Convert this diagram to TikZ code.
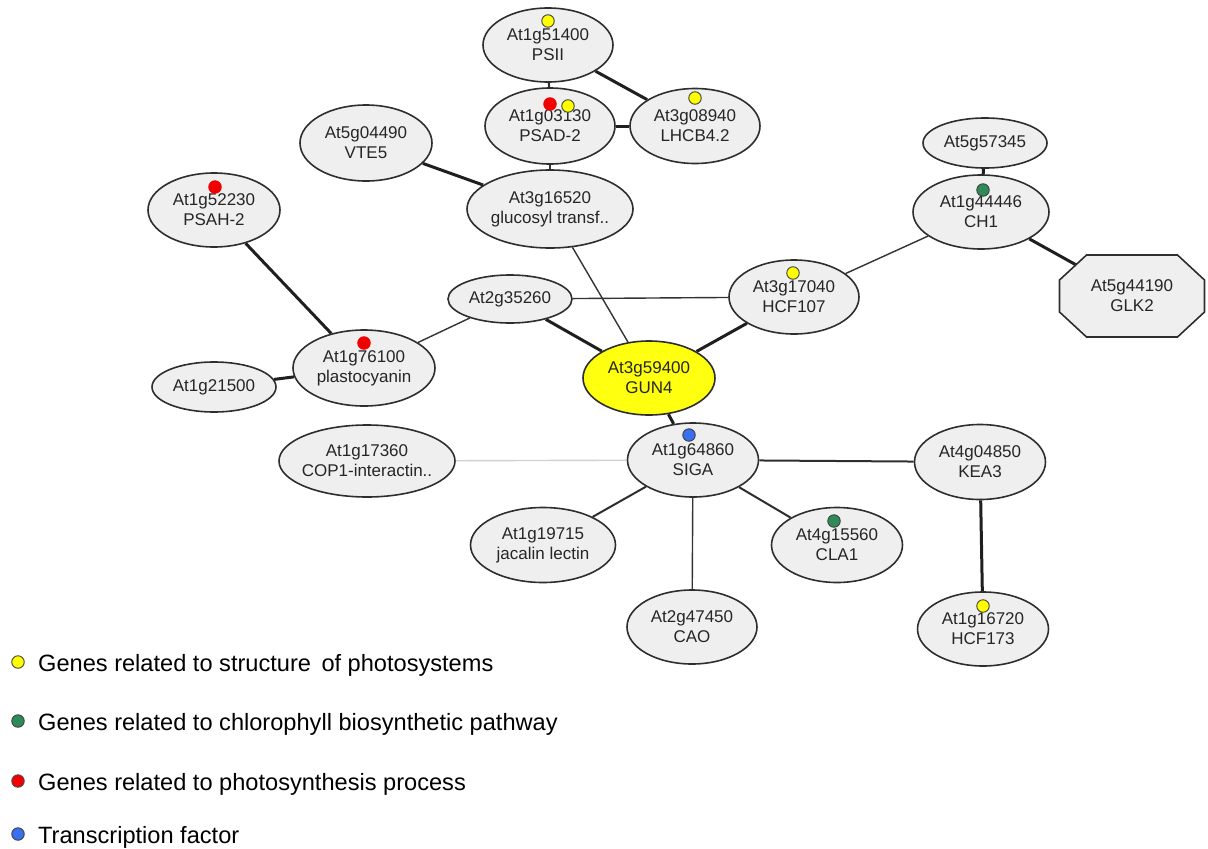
\documentclass[tikz,border=0pt]{standalone}
\usepackage{fontspec}
\setmainfont{Liberation Sans}
\usetikzlibrary{shapes.geometric,backgrounds,calc}
\definecolor{nfill}{HTML}{EFEFEF}
\definecolor{nline}{HTML}{2E2E2E}
\definecolor{gunyellow}{HTML}{FFFF10}
\definecolor{dyellow}{HTML}{FFFF00}
\definecolor{dred}{HTML}{F00000}
\definecolor{dgreen}{HTML}{2E8B57}
\definecolor{dblue}{HTML}{3A6FF0}
\definecolor{txt}{HTML}{262626}
\tikzset{
  gene/.style={ellipse, draw=nline, line width=1.6pt, fill=nfill, inner xsep=-15pt, inner ysep=0pt,
    align=center, font=\fontsize{17}{20}\selectfont, text=txt},
  octotext/.style={inner sep=0pt, align=center, font=\fontsize{17}{20}\selectfont, text=txt,
    minimum width=145, minimum height=82},
  octo/.style={draw=nline, line width=1.6pt, fill=nfill, line join=miter},
  thickedge/.style={line width=3pt, draw=black!88},
  midedge/.style={line width=2pt, draw=black!82},
  thinedge/.style={line width=1.4pt, draw=black!80},
  faintedge/.style={line width=1.4pt, draw=black!18},
  gdot/.style={circle, draw=black!75, line width=0.9pt, minimum size=12.5pt, inner sep=0pt},
  legtext/.style={anchor=base west, inner sep=0pt, font=\fontsize{23.6}{28}\selectfont, text=black},
}
\begin{document}
\begin{tikzpicture}[x=1pt,y=-1pt]
\useasboundingbox (0,0) rectangle (1208,849);

% gene nodes
\node[gene, minimum width=130, minimum height=74] (psii) at (548,45) {At1g51400\\PSII};
\node[gene, minimum width=130, minimum height=76] (psad) at (550,126) {At1g03130\\PSAD-2};
\node[gene, minimum width=130, minimum height=75] (lhcb) at (695,126) {At3g08940\\LHCB4.2};
\node[gene, minimum width=166, minimum height=78] (gluc) at (550,209) {At3g16520\\glucosyl transf..};
\node[gene, minimum width=132, minimum height=76] (vte5) at (366,143) {At5g04490\\VTE5};
\node[gene, minimum width=124, minimum height=48] (a35260) at (510,299) {At2g35260};
\node[gene, minimum width=132, minimum height=74] (psah) at (214,210) {At1g52230\\PSAH-2};
\node[gene, minimum width=142, minimum height=76] (plasto) at (364,368) {At1g76100\\plastocyanin};
\node[gene, minimum width=124, minimum height=50] (a21500) at (214,387) {At1g21500};
\node[gene, fill=gunyellow, minimum width=132, minimum height=74] (gun4) at (649,378) {At3g59400\\GUN4};
\node[gene, minimum width=130, minimum height=74] (hcf107) at (794,297) {At3g17040\\HCF107};
\node[gene, minimum width=136, minimum height=74] (ch1) at (981,212) {At1g44446\\CH1};
\node[gene, minimum width=124, minimum height=50] (a57345) at (985,143) {At5g57345};
\node[octotext] (glk2) at (1132,296) {At5g44190\\GLK2};
\node[gene, minimum width=131, minimum height=74] (siga) at (693,460) {At1g64860\\SIGA};
\node[gene, minimum width=131, minimum height=75] (kea3) at (980,462) {At4g04850\\KEA3};
\node[gene, minimum width=176, minimum height=72] (cop1) at (367,461) {At1g17360\\COP1-interactin..};
\node[gene, minimum width=145, minimum height=75] (jacalin) at (543,545) {At1g19715\\jacalin lectin};
\node[gene, minimum width=130, minimum height=74] (cao) at (692,627) {At2g47450\\CAO};
\node[gene, minimum width=131, minimum height=75] (cla1) at (837,545) {At4g15560\\CLA1};
\node[gene, minimum width=131, minimum height=74] (hcf173) at (983,629) {At1g16720\\HCF173};

% category dots
\node[gdot, fill=dyellow] (dpsii) at (548,21) {};
\node[gdot, fill=dred, draw=dred] (dpsad1) at (550,104) {};
\node[gdot, fill=dyellow] (dpsad2) at (568,106) {};
\node[gdot, fill=dyellow] (dlhcb) at (695,98) {};
\node[gdot, fill=dred, draw=dred] (dpsah) at (215,187) {};
\node[gdot, fill=dred, draw=dred] (dplasto) at (364,343) {};
\node[gdot, fill=dyellow] (dhcf107) at (793,273) {};
\node[gdot, fill=dgreen] (dch1) at (983,190) {};
\node[gdot, fill=dblue] (dsiga) at (689,435) {};
\node[gdot, fill=dgreen] (dcla1) at (834,521) {};
\node[gdot, fill=dyellow] (dhcf173) at (983,606) {};

% connectors
\begin{scope}[on background layer]
  \draw[midedge] (psii) -- (psad);
  \draw[thickedge] (psii) -- (lhcb);
  \draw[thickedge] (psad) -- (lhcb);
  \draw[thinedge] (psad) -- (gluc);
  \draw[thickedge] (vte5) -- (gluc);
  \draw[thinedge] (gluc) -- (gun4);
  \draw[thickedge] (psah) -- (plasto);
  \draw[thickedge] (a21500) -- (plasto);
  \draw[thinedge] (plasto) -- (a35260);
  \draw[thickedge] (a35260) -- (gun4);
  \draw[thinedge] (a35260) -- (hcf107);
  \draw[thickedge] (hcf107) -- (gun4);
  \draw[thinedge] (hcf107) -- (ch1);
  \draw[thickedge] (ch1) -- (a57345);
  \draw[thickedge] (ch1) -- (glk2.center);
  \draw[thickedge] (gun4) -- (siga);
  \draw[faintedge] (cop1) -- (siga);
  \draw[midedge] (siga) -- (kea3);
  \draw[midedge] (siga) -- (jacalin);
  \draw[thinedge] (siga) -- (cao);
  \draw[midedge] (siga) -- (cla1);
  \draw[thickedge] (kea3) -- (hcf173);
  % octagon of GLK2
  \filldraw[octo] ($(glk2.center)+(-45.5,-41)$) -- ++(91,0) -- ++(27,25) -- ++(0,32)
     -- ++(-27,25) -- ++(-91,0) -- ++(-27,-25) -- ++(0,-32) -- cycle;
\end{scope}

% legend
\node[gdot, fill=dyellow] (ly) at (18,662) {};
\node[legtext] (lyt) at (38,671) {Genes related to structure\, of photosystems};
\node[gdot, fill=dgreen] (lg) at (18,721) {};
\node[legtext] (lgt) at (38,730) {Genes related to chlorophyll biosynthetic pathway};
\node[gdot, fill=dred, draw=black!70] (lr) at (18,781) {};
\node[legtext] (lrt) at (38,790) {Genes related to photosynthesis process};
\node[gdot, fill=dblue] (lb) at (18,834) {};
\node[legtext] (lbt) at (38,843) {Transcription factor};
\end{tikzpicture}
\end{document}
